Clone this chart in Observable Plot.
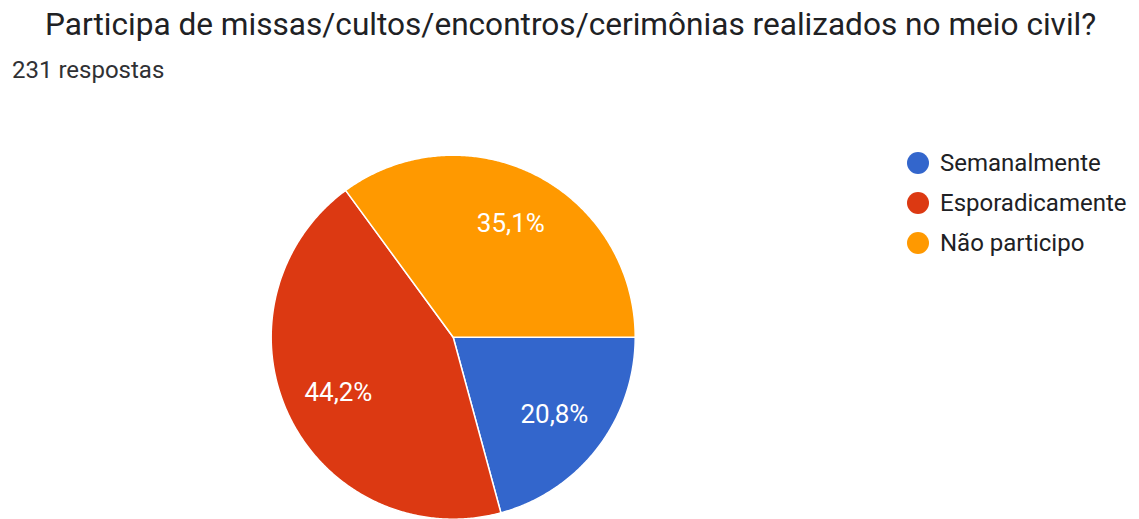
<!DOCTYPE html>
<html>
<head>
<meta charset="utf-8">
<script src="https://cdn.jsdelivr.net/npm/d3@7"></script>
<script src="https://cdn.jsdelivr.net/npm/@observablehq/plot@0.6"></script>
<style>
  html, body { margin: 0; padding: 0; background: #ffffff; }
  #wrap { position: relative; width: 1139px; height: 519px; overflow: hidden; font-family: Roboto, "Noto Sans", sans-serif; }
  #title { position: absolute; left: 45px; top: 6px; font-size: 31.6px; color: #202124; white-space: nowrap; }
  #subtitle { position: absolute; left: 12px; top: 56px; font-size: 24px; color: #303134; white-space: nowrap; }
  #chart { position: absolute; left: 0; top: 90px; }
  #legend { position: absolute; left: 907px; top: 143px; }
  .row { display: flex; align-items: center; height: 40px; font-size: 24px; color: #202124; }
  .sw { width: 22px; height: 22px; border-radius: 50%; margin-right: 11px; }
</style>
</head>
<body>
<div id="wrap">
  <div id="title"></div>
  <div id="subtitle"></div>
  <div id="chart"></div>
  <div id="legend"></div>
</div>
<script>
const titleText = "Participa de missas/cultos/encontros/cerimônias realizados no meio civil?";
const subtitleText = "231 respostas";
const categories = ["Semanalmente", "Esporadicamente", "Não participo"];
const counts = [48, 102, 81];
const colors = ["#3366cc", "#dc3912", "#ff9900"];

document.getElementById("title").textContent = titleText;
document.getElementById("subtitle").textContent = subtitleText;

const W = 1139, H = 429;
const cx = 452.7, cy = 246.7, R = 182;
const startDeg = 90;

const total = d3.sum(counts);
const slices = [];
let acc = 0;
categories.forEach((c, i) => {
  const a0 = startDeg + acc / total * 360;
  acc += counts[i];
  const a1 = startDeg + acc / total * 360;
  slices.push({cat: c, a0, a1, pct: counts[i] / total * 100});
});

const pts = [];
for (const s of slices) {
  pts.push({cat: s.cat, x: 0, y: 0});
  const n = Math.max(2, Math.ceil((s.a1 - s.a0) / 0.5));
  for (let k = 0; k <= n; k++) {
    const a = (s.a0 + (s.a1 - s.a0) * k / n) * Math.PI / 180;
    pts.push({cat: s.cat, x: Math.sin(a), y: Math.cos(a)});
  }
  pts.push({cat: s.cat, x: 0, y: 0});
}

const labels = slices.map(s => {
  const a = ((s.a0 + s.a1) / 2) * Math.PI / 180;
  return {x: 0.7 * Math.sin(a), y: 0.7 * Math.cos(a), text: s.pct.toFixed(1).replace(".", ",") + "%"};
});

const chart = Plot.plot({
  width: W,
  height: H,
  margin: 0,
  style: {background: "transparent", fontFamily: "Roboto, sans-serif"},
  x: {domain: [-cx / R, (W - cx) / R], axis: null},
  y: {domain: [-(H - cy) / R, cy / R], axis: null},
  color: {domain: categories, range: colors},
  marks: [
    Plot.line(pts, {x: "x", y: "y", z: "cat", fill: "cat", stroke: "#ffffff", strokeWidth: 1.5, curve: "linear", strokeLinejoin: "round"}),
    Plot.text(labels, {x: "x", y: "y", text: "text", fill: "#ffffff", fontSize: 26, textAnchor: "middle", lineAnchor: "middle"})
  ]
});
document.getElementById("chart").appendChild(chart);

const legend = document.getElementById("legend");
categories.forEach((c, i) => {
  const row = document.createElement("div");
  row.className = "row";
  const sw = document.createElement("div");
  sw.className = "sw";
  sw.style.background = colors[i];
  const t = document.createElement("span");
  t.textContent = c;
  row.appendChild(sw);
  row.appendChild(t);
  legend.appendChild(row);
});
</script>
</body>
</html>
